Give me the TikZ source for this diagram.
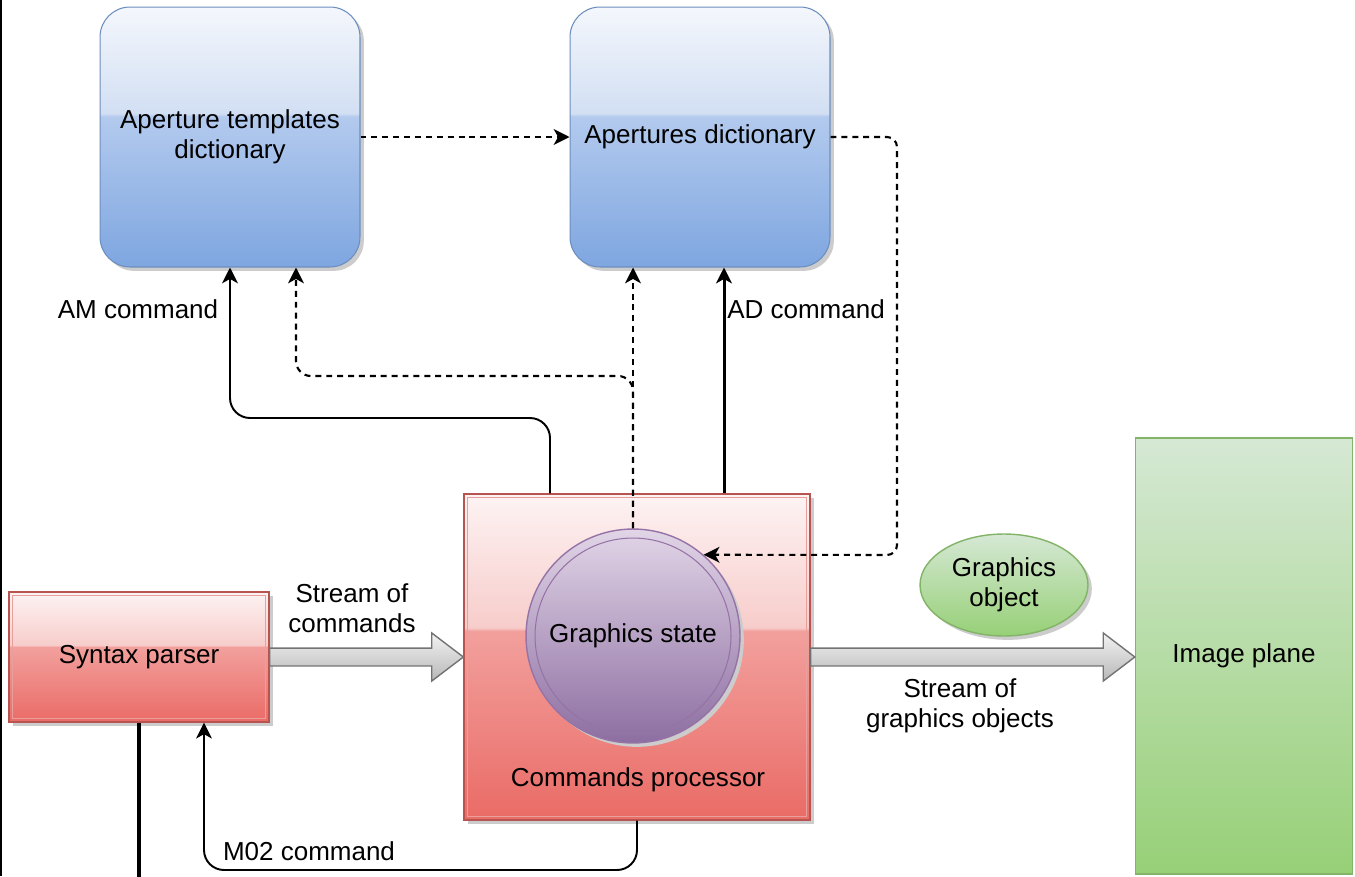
\documentclass[tikz,border=0pt]{standalone}
\usepackage{fontspec}
\setmainfont{Liberation Sans}
\usetikzlibrary{arrows.meta,shadows,shapes.geometric,calc}

\definecolor{blueT}{HTML}{F4F7FC}
\definecolor{blueM}{HTML}{D2DFF3}
\definecolor{blueG}{HTML}{B3CAEE}
\definecolor{blueB}{HTML}{7EA6E0}
\definecolor{blueE}{HTML}{6C8EBF}
\definecolor{redT}{HTML}{FDF3F3}
\definecolor{redM}{HTML}{F7CDCB}
\definecolor{redG}{HTML}{F2A09D}
\definecolor{redB}{HTML}{EA6B66}
\definecolor{redE}{HTML}{B85450}
\definecolor{redI}{HTML}{E8A09C}
\definecolor{violetT}{HTML}{E1D5E7}
\definecolor{violetB}{HTML}{8D6EA1}
\definecolor{violetE}{HTML}{9673A6}
\definecolor{greenT}{HTML}{D5E8D4}
\definecolor{greenB}{HTML}{97D077}
\definecolor{greenE}{HTML}{82B366}

\pgfdeclareverticalshading{glassblue}{100bp}{color(0bp)=(blueB); color(25bp)=(blueB); color(54bp)=(blueG); color(54.5bp)=(blueM); color(75bp)=(blueT); color(100bp)=(blueT)}
\pgfdeclareverticalshading{glassred}{100bp}{color(0bp)=(redB); color(25bp)=(redB); color(54bp)=(redG); color(54.5bp)=(redM); color(75bp)=(redT); color(100bp)=(redT)}

\tikzset{
  boxshadow/.style={drop shadow={shadow xshift=2.2pt, shadow yshift=-2.2pt, fill=black!20, opacity=1}},
  dictbox/.style={draw=blueE, line width=0.6pt, shading=glassblue, rounded corners=0.6cm,
    minimum width=5.2cm, minimum height=5.2cm, align=center, boxshadow},
  procbox/.style={draw=redE, line width=0.8pt, shading=glassred, align=center, boxshadow},
  procinner/.style={draw=redI, line width=0.6pt},
  statecircle/.style={circle, draw=violetE, line width=0.8pt, top color=violetT, bottom color=violetB,
    minimum size=4.28cm, inner sep=0pt, boxshadow},
  stateline/.style={draw=violetE, line width=0.6pt},
  objellipse/.style={ellipse, draw=greenE, line width=0.8pt, top color=greenT, bottom color=greenB,
    minimum width=3.36cm, minimum height=2.04cm, inner sep=0pt, align=center, boxshadow},
  planebox/.style={draw=greenE, line width=0.8pt, top color=greenT, bottom color=greenB,
    minimum width=4.34cm, minimum height=8.72cm},
  cmdarrow/.style={-{Stealth[length=9pt,width=9pt,inset=2.5pt]}, line width=1.1pt},
  dasharrow/.style={cmdarrow, line width=1.2pt, dash pattern=on 3.4pt off 2.8pt},
  fatarrow/.style={draw=black!55, line width=0.8pt, top color=black!5, bottom color=black!28}
}

\newcommand{\blockarrow}[2]{
  \path[fatarrow] let \p1=(#1), \p2=(#2) in
    (\x1,\y1+5.1pt) -- (\x2-18pt,\y1+5.1pt) -- (\x2-18pt,\y1+13.7pt) -- (\x2,\y1)
    -- (\x2-18pt,\y1-13.7pt) -- (\x2-18pt,\y1-5.1pt) -- (\x1,\y1-5.1pt) -- cycle;
}

\begin{document}
\begin{tikzpicture}[x=0.02cm, y=-0.02cm, font=\fontsize{14.8pt}{17pt}\selectfont]
  \useasboundingbox (0,0) rectangle (1355,876);
  \draw[line width=1.6pt] (1,0) -- (1,876);

  \node[dictbox] (atd) at (230,137) {Aperture templates\\dictionary};
  \node[dictbox] (apd) at (700,137) {Apertures dictionary};
  \node[procbox, minimum width=6.92cm, minimum height=6.52cm] (cp) at (637,657) {};
  \draw[procinner] ([xshift=2.3pt,yshift=-2.3pt]cp.north west) rectangle ([xshift=-2.3pt,yshift=2.3pt]cp.south east);
  \node (cplabel) at (638,780) {Commands processor};
  \node[statecircle] (gs) at (633,636) {Graphics state};
  \draw[stateline] (gs.center) circle (1.96cm);
  \node[procbox, minimum width=5.2cm, minimum height=2.6cm] (sp) at (139,657) {Syntax parser};
  \draw[procinner] ([xshift=2.3pt,yshift=-2.3pt]sp.north west) rectangle ([xshift=-2.3pt,yshift=2.3pt]sp.south east);
  \node[objellipse] (go) at (1004,585) {Graphics\\object};
  \node[planebox] (ip) at (1244,656) {Image plane};

  \blockarrow{sp.east}{cp.west}
  \blockarrow{cp.east}{ip.west}

  \coordinate (gsin) at (897,555);
  \coordinate (amjoin) at (296,376);
  \coordinate (amfoot) at (550,418);
  \coordinate (adfoot) at (724,400);
  \coordinate (m02turn) at (204,870);
  \coordinate (spout) at (139,880);

  \draw[dasharrow] (atd.east) -- (apd.west);
  \draw[dasharrow, rounded corners=0.2cm] (apd.east) -| (gsin) -- (gs.49);
  \draw[dasharrow] (gs.north) -- (gs.north |- apd.south);
  \draw[dasharrow, rounded corners=0.3cm] (gs.north) |- (amjoin) -- (amjoin |- atd.south);
  \draw[cmdarrow, rounded corners=0.4cm] (amfoot |- cp.north) -- (amfoot) -| (atd.south);
  \draw[cmdarrow, line width=1.7pt] (adfoot |- cp.north) -- (adfoot |- apd.south);
  \draw[cmdarrow, rounded corners=0.4cm] (cp.south) |- (m02turn) -- (m02turn |- sp.south);
  \draw[line width=1.8pt] (sp.south) -- (spout);

  \node (amlabel) at (138,309) {AM command};
  \node (adlabel) at (806,309) {AD command};
  \node[align=center] (cmdstream) at (352,608) {Stream of\\commands};
  \node[align=center] (objstream) at (960,706) {Stream of\\graphics objects};
  \node (m02label) at (309,851) {M02 command};
\end{tikzpicture}
\end{document}
